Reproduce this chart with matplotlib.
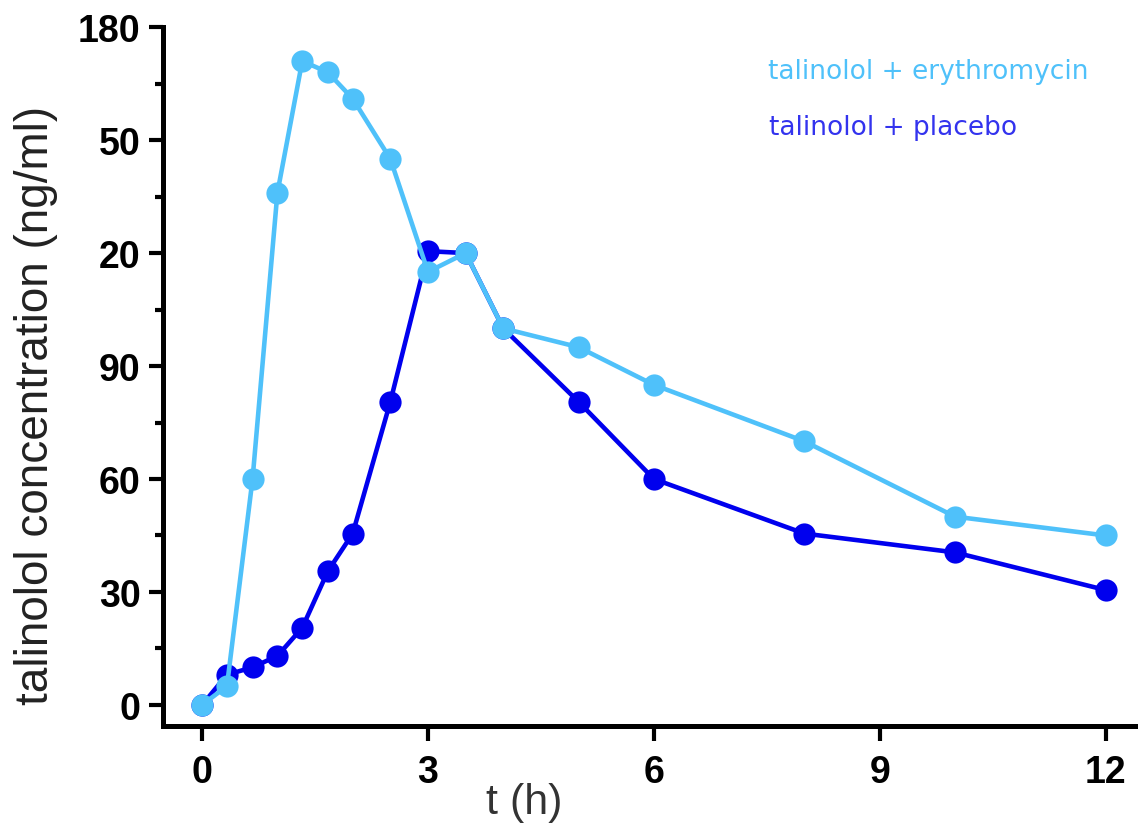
import matplotlib
matplotlib.use("Agg")
import matplotlib.pyplot as plt
from matplotlib.ticker import MultipleLocator

# sampling times (h)
t_ery = [0, 0.33, 0.67, 1, 1.33, 1.67, 2, 2.5, 3, 3.5, 4, 5, 6, 8, 10, 12]
c_ery = [0, 5, 60, 136, 171, 168, 161, 145, 115, 120, 100, 95, 85, 70, 50, 45]

t_pla = [0, 0.33, 0.67, 1, 1.33, 1.67, 2, 2.5, 3, 3.5, 4, 5, 6, 8, 10, 12]
c_pla = [0, 8, 10, 13, 20.5, 35.5, 45.5, 80.5, 120.5, 120, 100, 80.5, 60, 45.5, 40.5, 30.5]

x_ticks = [0, 3, 6, 9, 12]
y_ticks = [0, 30, 60, 90, 120, 150, 180]
y_tick_labels = ["0", "30", "60", "90", "20", "50", "180"]

light = "#4FC1FA"
dark = "#0000EE"

fig = plt.figure(figsize=(11.38, 8.28), dpi=100)
ax = fig.add_axes([0.1432, 0.122, 0.8568, 0.844])

ax.plot(t_pla, c_pla, color=dark, lw=3.3, marker="o", ms=16, mew=0, zorder=2)
ax.plot(t_ery, c_ery, color=light, lw=3.3, marker="o", ms=16, mew=0, zorder=3)

ax.set_xlim(-0.52, 12.43)
ax.set_ylim(-5.6, 180)

for side in ("top", "right"):
    ax.spines[side].set_visible(False)
for side in ("left", "bottom"):
    ax.spines[side].set_linewidth(3.6)

ax.set_xticks(x_ticks)
ax.set_xticklabels([str(v) for v in x_ticks])
ax.set_yticks(y_ticks)
ax.set_yticklabels(y_tick_labels)
ax.yaxis.set_minor_locator(MultipleLocator(15))

ax.tick_params(axis="x", which="major", length=11, width=3, direction="out", pad=9)
ax.tick_params(axis="y", which="major", length=10, width=3, direction="out", pad=6)
ax.tick_params(axis="y", which="minor", length=6, width=3, direction="out")
for lab in ax.get_xticklabels() + ax.get_yticklabels():
    lab.set_fontfamily("Liberation Sans")
    lab.set_fontweight("bold")
    lab.set_fontsize(27)

fig.text(0.032, 0.51, "talinolol concentration (ng/ml)", rotation=90,
         ha="center", va="center", fontsize=33, family="Liberation Sans",
         color="#222222")
fig.text(0.461, 0.03, "t (h)", ha="center", va="center", fontsize=31,
         family="Liberation Sans", color="#333333")

ax.text(0.6205, 0.937, "talinolol + erythromycin", transform=ax.transAxes,
        color=light, fontsize=19, family="DejaVu Sans", va="center")
ax.text(0.622, 0.857, "talinolol + placebo", transform=ax.transAxes,
        color="#3333EE", fontsize=19, family="DejaVu Sans", va="center")

fig.savefig("out.png", dpi=100)
